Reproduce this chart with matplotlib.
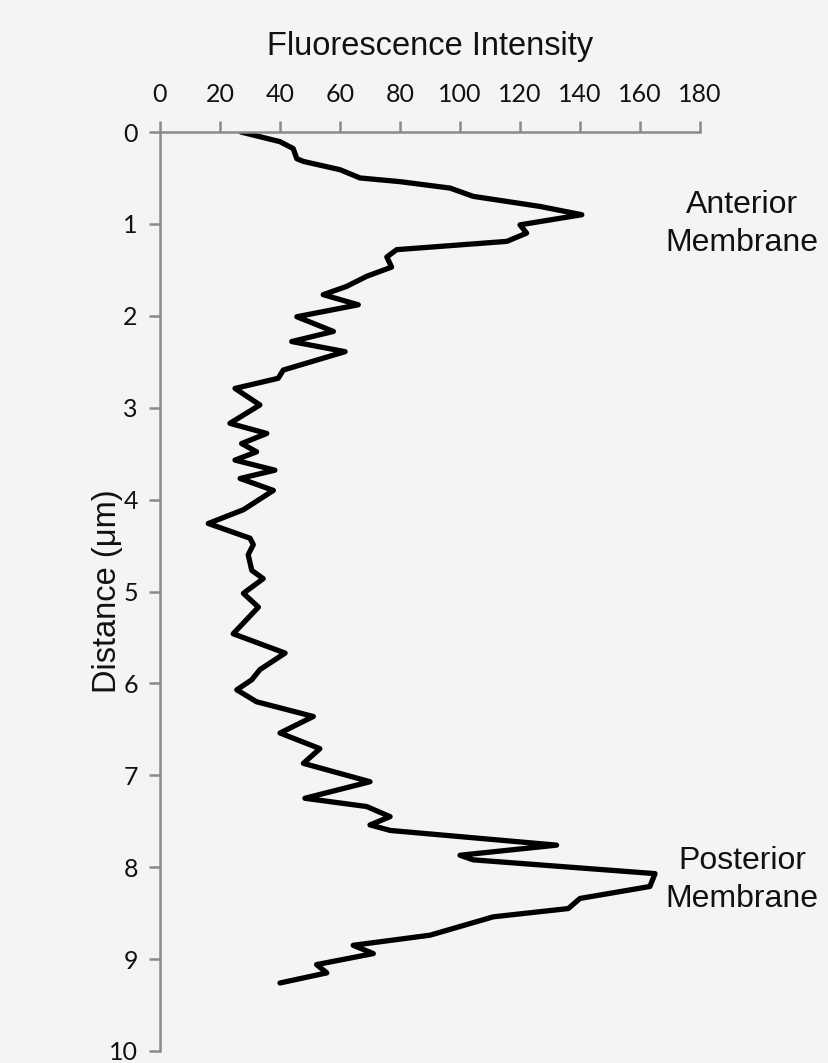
import matplotlib
matplotlib.use("Agg")
import matplotlib.pyplot as plt

# Data (x = fluorescence intensity, y = distance in µm)
intensity = [27, 40, 44.4, 45.6, 47.8, 60, 66.7, 80, 96.7, 104.4, 126.7, 140.6,
             120, 122.2, 115.6, 78.9, 75.6, 77.2, 68.9, 62.2, 54.4, 66.1, 45.6,
             57.8, 43.9, 61.7, 41.1, 39.4, 25, 33.3, 23.3, 35.6, 27.2, 32.2, 25,
             38.3, 26.7, 37.8, 27.8, 16.1, 30, 31.1, 29.4, 30.6, 34.4, 27.8, 32.8,
             24.4, 41.7, 33.3, 30.6, 25.6, 32.2, 51.1, 40, 53.3, 47.8, 70, 48.3,
             68.9, 76.7, 70, 76.7, 132.2, 100, 104.4, 165, 163.3, 140, 136.1,
             111.1, 90, 64.4, 71.1, 52.2, 55.6, 40]
distance = [0.0, 0.105, 0.18, 0.29, 0.32, 0.41, 0.50, 0.54, 0.61, 0.70, 0.81, 0.90,
            1.01, 1.10, 1.19, 1.28, 1.36, 1.47, 1.57, 1.68, 1.77, 1.88, 2.01,
            2.17, 2.28, 2.39, 2.59, 2.68, 2.79, 2.97, 3.17, 3.28, 3.39, 3.48, 3.57,
            3.68, 3.77, 3.90, 4.11, 4.26, 4.42, 4.49, 4.60, 4.77, 4.86, 5.02, 5.17,
            5.46, 5.67, 5.85, 5.96, 6.07, 6.20, 6.36, 6.54, 6.71, 6.87, 7.07, 7.25,
            7.34, 7.45, 7.54, 7.60, 7.76, 7.87, 7.92, 8.07, 8.21, 8.34, 8.45,
            8.54, 8.74, 8.85, 8.94, 9.06, 9.15, 9.26]

x_ticks = [0, 20, 40, 60, 80, 100, 120, 140, 160, 180]
y_ticks = [0, 1, 2, 3, 4, 5, 6, 7, 8, 9, 10]
annotations = [("Anterior\nMembrane", 1.0), ("Posterior\nMembrane", 8.14)]

bg = "#f4f4f4"
axis_gray = "#8a8a8a"
txt_color = "#111111"

fig = plt.figure(figsize=(8.29, 10.63), dpi=100, facecolor=bg)
ax = fig.add_axes([0.193, 0.0113, 0.6514, 0.8645])
ax.set_facecolor(bg)

ax.plot(intensity, distance, color="black", lw=3.8, solid_joinstyle="round",
        solid_capstyle="round")

ax.set_xlim(0, 180)
ax.set_ylim(10, 0)
ax.xaxis.tick_top()
ax.xaxis.set_label_position("top")
ax.set_xticks(x_ticks)
ax.set_yticks(y_ticks)

for s in ["right", "bottom"]:
    ax.spines[s].set_visible(False)
for s in ["top", "left"]:
    ax.spines[s].set_color(axis_gray)
    ax.spines[s].set_linewidth(1.8)

ax.tick_params(axis="both", direction="out", length=8, width=1.8, color=axis_gray,
               labelsize=18, labelcolor=txt_color)
ax.tick_params(axis="x", pad=11)
ax.tick_params(axis="y", pad=8)
for lab in ax.get_xticklabels() + ax.get_yticklabels():
    lab.set_fontfamily("Lato")

ax.set_xlabel("Fluorescence Intensity", fontsize=23.5, family="Liberation Sans",
              labelpad=20, color=txt_color)
ax.text(-0.098, 0.5, "Distance (\u03bcm)", transform=ax.transAxes, rotation=90,
        ha="center", va="center", fontsize=23.5, family="Liberation Sans",
        color=txt_color)

for txt, yv in annotations:
    ax.text(1.078, yv, txt, transform=ax.get_yaxis_transform(), ha="center",
            va="center", fontsize=23, family="Liberation Sans", color=txt_color,
            linespacing=1.38, clip_on=False)

fig.savefig("out.png", dpi=100, facecolor=bg)
